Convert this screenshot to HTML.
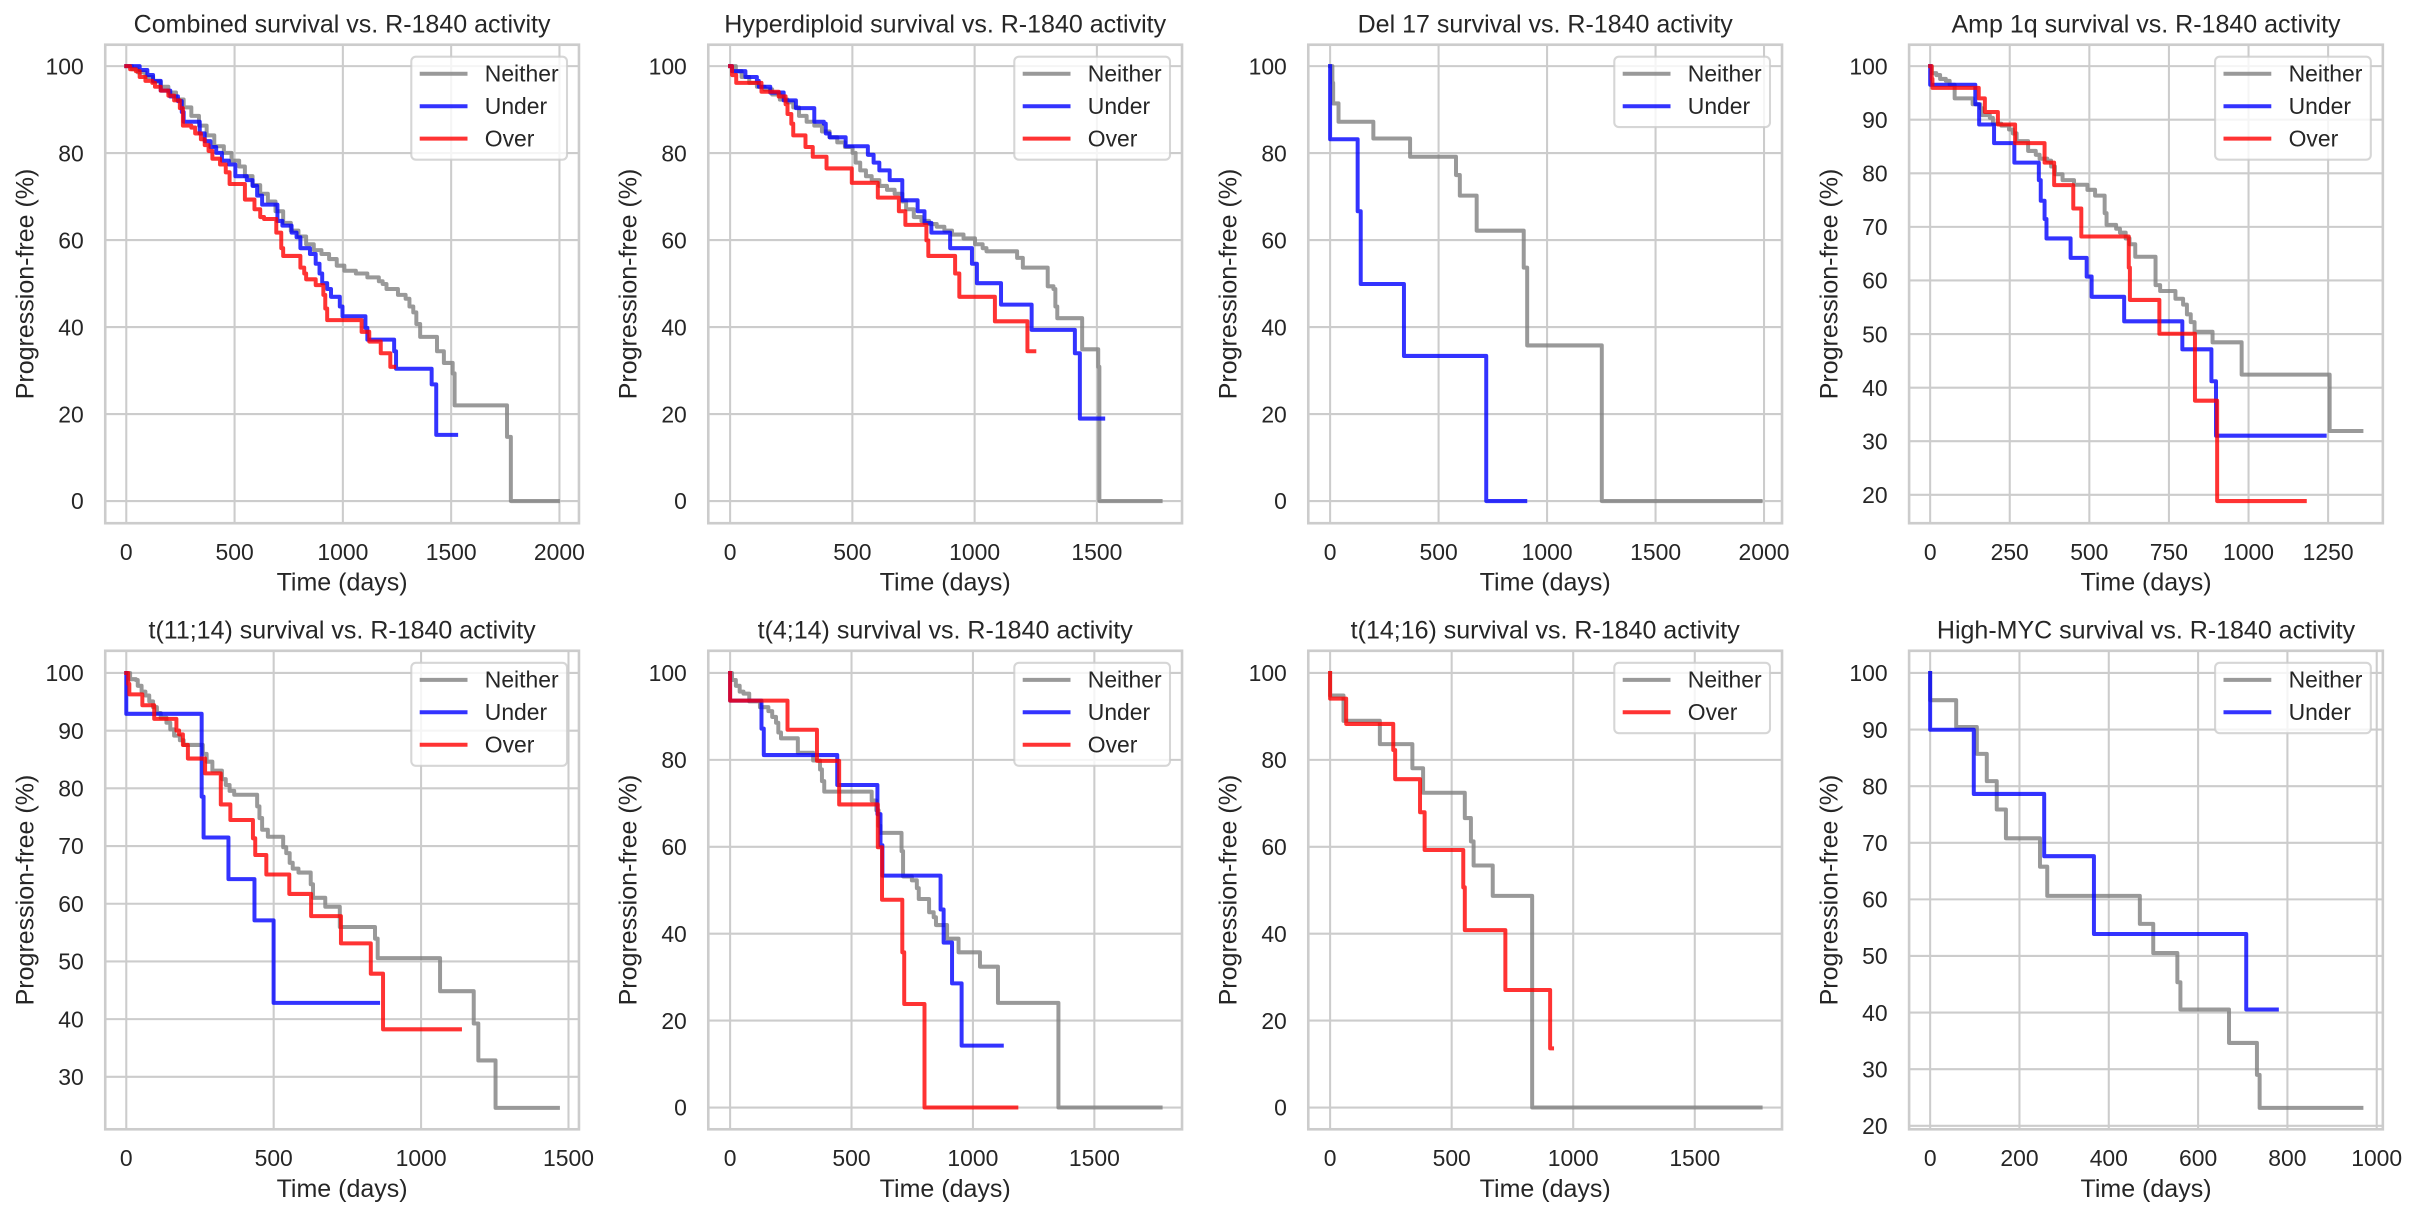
<!DOCTYPE html>
<html>
<head>
<meta charset="utf-8">
<style>
  html,body{margin:0;padding:0;background:#fff;}
  svg{display:block;}
  text{font-family:"Liberation Sans",Arial,sans-serif;fill:#262626;}
  .tt{font-size:25px;text-anchor:middle;}
  .xl{font-size:25px;text-anchor:middle;}
  .tk{font-size:22.9px;}
  .xt{text-anchor:middle;}
  .yt{text-anchor:end;}
  .lg{font-size:22.9px;}
  .grid{fill:none;stroke:#cccccc;stroke-width:5.4;}
  .spine{fill:none;stroke:#cccccc;stroke-width:6.8;}
  .c{fill:none;stroke-width:10.4;stroke-opacity:0.8;stroke-linejoin:round;stroke-linecap:square;}
  .g{stroke:#808080;}
  .b{stroke:#0000ff;}
  .r{stroke:#ff0000;}
  .lgbox{fill:#ffffff;fill-opacity:0.8;stroke:#cccccc;stroke-opacity:0.8;stroke-width:2.08px;}
  .ll{stroke-width:4px;stroke-opacity:0.8;}
</style>
</head>
<body>
<svg width="2418" height="1218" viewBox="0 0 2418 1218" xmlns="http://www.w3.org/2000/svg">
<rect x="0" y="0" width="2418" height="1218" fill="#ffffff"/>

<!-- ================= PANEL 1 ================= -->
<g transform="translate(0,-0.8) scale(0.38266,0.38903)">
  <path class="grid" d="M330 117V1347M613 117V1347M896 117V1347M1179 117V1347M1462 117V1347M275 172H1513M275 395.6H1513M275 619.2H1513M275 842.8H1513M275 1066.4H1513M275 1290H1513"/>
  <path class="c g" d="M330 172H345V180H360V188H380V200H400V212H420V225H440V240H460V258H480V278H500V300H520V325H540V350H560V378H585V395H605V415H625V430H640V455H660V478H680V500H700V520H720V545H740V575H760V595H780V610H800V630H820V645H840V655H860V668H880V685H900V698H930V705H960V715H990V725H1000V732H1010V745H1040V760H1060V770H1070V790H1080V805H1088V835H1098V868H1142V905H1160V935H1183V962H1188V1044H1325V1125H1335V1290H1458"/>
  <path class="c b" d="M330 172H365V182H385V195H400V210H420V235H445V250H465V262H475V290H480V315H522V345H535V365H550V380H565V395H580V415H598V425H615V455H645V465H660V480H672V505H685V528H725V570H738V582H762V600H775V612H785V640H810V655H825V680H835V705H842V730H855V745H865V765H888V790H895V815H955V845H960V875H1030V905H1035V950H1128V990H1140V1120H1192"/>
  <path class="c r" d="M330 172H340V180H355V185H365V200H380V210H398V215H405V225H420V235H440V248H455V260H470V280H478V325H500V330H510V345H525V360H535V375H545V390H555V410H575V425H590V445H600V475H640V515H665V540H680V560H690V565H722V600H735V640H740V660H785V690H795V705H800V720H825V735H845V760H850V795H855V825H945V855H965V880H995V910H1020V945H1030"/>
  <rect class="spine" x="275" y="117" width="1238" height="1230"/>
</g>
<text class="tt" x="342.1" y="32.5">Combined survival vs. R-1840 activity</text>
<text class="tk xt" x="126.3" y="560">0</text>
<text class="tk xt" x="234.6" y="560">500</text>
<text class="tk xt" x="342.9" y="560">1000</text>
<text class="tk xt" x="451.2" y="560">1500</text>
<text class="tk xt" x="559.4" y="560">2000</text>
<text class="tk yt" x="83.7" y="74.3">100</text>
<text class="tk yt" x="83.7" y="161.3">80</text>
<text class="tk yt" x="83.7" y="248.3">60</text>
<text class="tk yt" x="83.7" y="335.3">40</text>
<text class="tk yt" x="83.7" y="422.3">20</text>
<text class="tk yt" x="83.7" y="509.2">0</text>
<text class="xl" x="342.1" y="590.7">Time (days)</text>
<text class="xl" transform="translate(33.5,283.95) rotate(-90)" x="0" y="0">Progression-free (%)</text>
<rect class="lgbox" x="411.3" y="56.7" width="155.7" height="103" rx="4.6"/>
<line class="ll" x1="419.7" y1="73.8" x2="467.5" y2="73.8" stroke="#808080"/>
<line class="ll" x1="419.7" y1="106.2" x2="467.5" y2="106.2" stroke="#0000ff"/>
<line class="ll" x1="419.7" y1="138.6" x2="467.5" y2="138.6" stroke="#ff0000"/>
<text class="lg" x="484.8" y="81.6">Neither</text>
<text class="lg" x="484.8" y="114">Under</text>
<text class="lg" x="484.8" y="146.4">Over</text>

<!-- ================= PANEL 2 ================= -->
<g transform="translate(600,-0.8) scale(0.38266,0.38903)">
  <path class="grid" d="M340 117V1347M659.5 117V1347M979 117V1347M1298.5 117V1347M283 172H1521M283 395.6H1521M283 619.2H1521M283 842.8H1521M283 1066.4H1521M283 1290H1521"/>
  <path class="c g" d="M340 172H355V185H370V200H390V215H410V225H430V232H450V245H470V258H490V265H505V278H520V300H540V315H560V325H580V340H600V355H620V368H640V380H660V395H668V420H680V440H695V455H710V465H730V480H750V490H770V500H790V520H800V540H820V560H840V570H860V578H880V585H900V595H920V605H950V615H980V630H1000V640H1010V648H1090V665H1105V690H1170V738H1185V745H1190V790H1195V820H1260V900H1302V945H1305V1290H1465"/>
  <path class="c b" d="M340 172H345V185H380V200H410V210H415V225H445V240H480V260H512V280H560V315H585V320H590V345H600V355H642V378H700V400H715V420H730V440H757V465H790V517H830V545H848V575H866V600H915V640H972V680H985V730H1048V785H1128V850H1241V910H1254V1078H1315"/>
  <path class="c r" d="M340 172H345V195H356V215H422V238H467V250H485V270H490V295H500V320H505V350H537V380H556V405H592V435H658V472H726V510H781V545H798V580H853V620H858V660H928V705H939V765H1032V828H1117V905H1135"/>
  <rect class="spine" x="283" y="117" width="1238" height="1230"/>
</g>
<text class="tt" x="945.2" y="32.5">Hyperdiploid survival vs. R-1840 activity</text>
<text class="tk xt" x="730.1" y="560">0</text>
<text class="tk xt" x="852.4" y="560">500</text>
<text class="tk xt" x="974.6" y="560">1000</text>
<text class="tk xt" x="1096.9" y="560">1500</text>
<text class="tk yt" x="686.8" y="74.3">100</text>
<text class="tk yt" x="686.8" y="161.3">80</text>
<text class="tk yt" x="686.8" y="248.3">60</text>
<text class="tk yt" x="686.8" y="335.3">40</text>
<text class="tk yt" x="686.8" y="422.3">20</text>
<text class="tk yt" x="686.8" y="509.2">0</text>
<text class="xl" x="945.2" y="590.7">Time (days)</text>
<text class="xl" transform="translate(636.6,283.95) rotate(-90)" x="0" y="0">Progression-free (%)</text>
<rect class="lgbox" x="1014.3" y="56.7" width="155.7" height="103" rx="4.6"/>
<line class="ll" x1="1022.7" y1="73.8" x2="1070.5" y2="73.8" stroke="#808080"/>
<line class="ll" x1="1022.7" y1="106.2" x2="1070.5" y2="106.2" stroke="#0000ff"/>
<line class="ll" x1="1022.7" y1="138.6" x2="1070.5" y2="138.6" stroke="#ff0000"/>
<text class="lg" x="1087.8" y="81.6">Neither</text>
<text class="lg" x="1087.8" y="114">Under</text>
<text class="lg" x="1087.8" y="146.4">Over</text>

<!-- ================= PANEL 3 ================= -->
<g transform="translate(1200,-0.8) scale(0.38266,0.38903)">
  <path class="grid" d="M340 117V1347M623.5 117V1347M907 117V1347M1190.5 117V1347M1474 117V1347M283 172H1521M283 395.6H1521M283 619.2H1521M283 842.8H1521M283 1066.4H1521M283 1290H1521"/>
  <path class="c g" d="M340 172H346V215H348V268H362V315H453V358H549V405H669V452H679V505H723V595H846V690H855V890H1050V1290H1465"/>
  <path class="c b" d="M340 172V360H412V545H420V732H533V917H748V1290H850"/>
  <rect class="spine" x="283" y="117" width="1238" height="1230"/>
</g>
<text class="tt" x="1545.2" y="32.5">Del 17 survival vs. R-1840 activity</text>
<text class="tk xt" x="1330.1" y="560">0</text>
<text class="tk xt" x="1438.6" y="560">500</text>
<text class="tk xt" x="1547.1" y="560">1000</text>
<text class="tk xt" x="1655.6" y="560">1500</text>
<text class="tk xt" x="1764" y="560">2000</text>
<text class="tk yt" x="1286.8" y="74.3">100</text>
<text class="tk yt" x="1286.8" y="161.3">80</text>
<text class="tk yt" x="1286.8" y="248.3">60</text>
<text class="tk yt" x="1286.8" y="335.3">40</text>
<text class="tk yt" x="1286.8" y="422.3">20</text>
<text class="tk yt" x="1286.8" y="509.2">0</text>
<text class="xl" x="1545.2" y="590.7">Time (days)</text>
<text class="xl" transform="translate(1236.6,283.95) rotate(-90)" x="0" y="0">Progression-free (%)</text>
<rect class="lgbox" x="1614.3" y="56.7" width="155.7" height="70.4" rx="4.6"/>
<line class="ll" x1="1622.7" y1="73.8" x2="1670.5" y2="73.8" stroke="#808080"/>
<line class="ll" x1="1622.7" y1="106.2" x2="1670.5" y2="106.2" stroke="#0000ff"/>
<text class="lg" x="1687.8" y="81.6">Neither</text>
<text class="lg" x="1687.8" y="114">Under</text>

<!-- ================= PANEL 4 ================= -->
<g transform="translate(1810,-0.8) scale(0.38266,0.38903)">
  <path class="grid" d="M314 117V1347M522 117V1347M730 117V1347M938 117V1347M1146 117V1347M1354 117V1347M259 172H1497M259 309.75H1497M259 447.5H1497M259 585.25H1497M259 723H1497M259 860.75H1497M259 998.5H1497M259 1136.25H1497M259 1274H1497"/>
  <path class="c g" d="M314 172H318V190H330V195H340V205H355V210H365V220H378V255H425V270H445V280H450V298H470V305H478V320H500V325H520V335H530V345H540V365H570V390H590V400H600V410H620V415H630V430H640V450H660V465H690V477H725V490H745V505H770V550H775V580H800V590H810V600H825V615H835V630H850V662H903V735H915V750H955V770H975V785H985V810H995V830H1005V855H1052V882H1128V965H1358V1110H1441"/>
  <path class="c b" d="M314 172V220H432V270H442V322H481V370H534V420H598V465H603V518H613V565H618V615H681V665H723V713H736V765H821V828H973V900H1049V982H1061V1122H1345"/>
  <path class="c r" d="M314 172H318V205H320V228H441V255H457V290H491V322H536V370H613V420H638V478H688V538H709V610H833V690H836V773H913V860H1006V1032H1064V1290H1293"/>
  <rect class="spine" x="259" y="117" width="1238" height="1230"/>
</g>
<text class="tt" x="2146" y="32.5">Amp 1q survival vs. R-1840 activity</text>
<text class="tk xt" x="1930.2" y="560">0</text>
<text class="tk xt" x="2009.7" y="560">250</text>
<text class="tk xt" x="2089.3" y="560">500</text>
<text class="tk xt" x="2168.9" y="560">750</text>
<text class="tk xt" x="2248.5" y="560">1000</text>
<text class="tk xt" x="2328.1" y="560">1250</text>
<text class="tk yt" x="1887.6" y="74.3">100</text>
<text class="tk yt" x="1887.6" y="127.9">90</text>
<text class="tk yt" x="1887.6" y="181.5">80</text>
<text class="tk yt" x="1887.6" y="235.1">70</text>
<text class="tk yt" x="1887.6" y="288.7">60</text>
<text class="tk yt" x="1887.6" y="342.3">50</text>
<text class="tk yt" x="1887.6" y="395.8">40</text>
<text class="tk yt" x="1887.6" y="449.4">30</text>
<text class="tk yt" x="1887.6" y="503">20</text>
<text class="xl" x="2146" y="590.7">Time (days)</text>
<text class="xl" transform="translate(1837.4,283.95) rotate(-90)" x="0" y="0">Progression-free (%)</text>
<rect class="lgbox" x="2215.1" y="56.7" width="155.7" height="103" rx="4.6"/>
<line class="ll" x1="2223.5" y1="73.8" x2="2271.3" y2="73.8" stroke="#808080"/>
<line class="ll" x1="2223.5" y1="106.2" x2="2271.3" y2="106.2" stroke="#0000ff"/>
<line class="ll" x1="2223.5" y1="138.6" x2="2271.3" y2="138.6" stroke="#ff0000"/>
<text class="lg" x="2288.6" y="81.6">Neither</text>
<text class="lg" x="2288.6" y="114">Under</text>
<text class="lg" x="2288.6" y="146.4">Over</text>

<!-- ================= PANEL 5 ================= -->
<g transform="translate(0,608) scale(0.38266,0.38903)">
  <path class="grid" d="M330 110V1340M715.2 110V1340M1100.4 110V1340M1485.6 110V1340M275 167H1513M275 315.3H1513M275 463.6H1513M275 611.9H1513M275 760.2H1513M275 908.5H1513M275 1056.8H1513M275 1205.1H1513"/>
  <path class="c g" d="M330 167H340V183H355V185H360V200H370V215H380V225H390V240H400V255H410V270H420V282H435V295H445V312H455V328H470V340H480V352H530V375H540V395H555V418H580V440H590V455H600V470H612V480H672V510H678V540H685V570H700V588H740V615H748V630H757V655H765V670H780V680H812V710H818V745H850V768H888V820H980V850H987V900H1150V985H1238V1068H1250V1163H1295V1285H1458"/>
  <path class="c b" d="M330 167V272H527V485H532V590H597V697H665V803H715V1015H988"/>
  <path class="c r" d="M330 167H335V195H338V222H372V250H403V285H461V315H468V325H478V352H491V387H536V425H577V505H602V545H661V592H667V635H696V685H756V735H813V792H891V862H969V940H1001V1083H1202"/>
  <rect class="spine" x="275" y="110" width="1238" height="1230"/>
</g>
<text class="tt" x="342.1" y="638.6">t(11;14) survival vs. R-1840 activity</text>
<text class="tk xt" x="126.3" y="1166.1">0</text>
<text class="tk xt" x="273.7" y="1166.1">500</text>
<text class="tk xt" x="421.1" y="1166.1">1000</text>
<text class="tk xt" x="568.5" y="1166.1">1500</text>
<text class="tk yt" x="83.7" y="681.2">100</text>
<text class="tk yt" x="83.7" y="738.9">90</text>
<text class="tk yt" x="83.7" y="796.6">80</text>
<text class="tk yt" x="83.7" y="854.2">70</text>
<text class="tk yt" x="83.7" y="911.9">60</text>
<text class="tk yt" x="83.7" y="969.6">50</text>
<text class="tk yt" x="83.7" y="1027.3">40</text>
<text class="tk yt" x="83.7" y="1085">30</text>
<text class="xl" x="342.1" y="1196.8">Time (days)</text>
<text class="xl" transform="translate(33.5,890.05) rotate(-90)" x="0" y="0">Progression-free (%)</text>
<rect class="lgbox" x="411.3" y="662.8" width="155.7" height="103" rx="4.6"/>
<line class="ll" x1="419.7" y1="679.9" x2="467.5" y2="679.9" stroke="#808080"/>
<line class="ll" x1="419.7" y1="712.3" x2="467.5" y2="712.3" stroke="#0000ff"/>
<line class="ll" x1="419.7" y1="744.7" x2="467.5" y2="744.7" stroke="#ff0000"/>
<text class="lg" x="484.8" y="687.7">Neither</text>
<text class="lg" x="484.8" y="720.1">Under</text>
<text class="lg" x="484.8" y="752.5">Over</text>

<!-- ================= PANEL 6 ================= -->
<g transform="translate(600,608) scale(0.38266,0.38903)">
  <path class="grid" d="M340 110V1340M657.3 110V1340M974.6 110V1340M1291.9 110V1340M283 167H1521M283 390.4H1521M283 613.8H1521M283 837.2H1521M283 1060.6H1521M283 1284H1521"/>
  <path class="c g" d="M340 167H345V185H355V200H365V215H375V220H390V240H418V255H440V265H450V280H460V295H466V320H473V335H517V372H557V392H575V415H580V445H586V472H710V495H722V520H728V560H733V578H788V625H792V690H815V700H828V720H833V748H860V782H872V795H878V815H907V850H937V885H993V922H1040V1015H1198V1284H1465"/>
  <path class="c b" d="M340 167V238H422V310H428V378H620V455H725V530H733V610H738V688H890V775H898V860H920V965H945V1125H1050"/>
  <path class="c r" d="M340 167V238H490V313H567V393H625V505H726V615H737V750H790V885H795V1018H848V1284H1088"/>
  <rect class="spine" x="283" y="110" width="1238" height="1230"/>
</g>
<text class="tt" x="945.2" y="638.6">t(4;14) survival vs. R-1840 activity</text>
<text class="tk xt" x="730.1" y="1166.1">0</text>
<text class="tk xt" x="851.5" y="1166.1">500</text>
<text class="tk xt" x="972.9" y="1166.1">1000</text>
<text class="tk xt" x="1094.4" y="1166.1">1500</text>
<text class="tk yt" x="686.8" y="681.2">100</text>
<text class="tk yt" x="686.8" y="768.1">80</text>
<text class="tk yt" x="686.8" y="855">60</text>
<text class="tk yt" x="686.8" y="941.9">40</text>
<text class="tk yt" x="686.8" y="1028.8">20</text>
<text class="tk yt" x="686.8" y="1115.7">0</text>
<text class="xl" x="945.2" y="1196.8">Time (days)</text>
<text class="xl" transform="translate(636.6,890.05) rotate(-90)" x="0" y="0">Progression-free (%)</text>
<rect class="lgbox" x="1014.3" y="662.8" width="155.7" height="103" rx="4.6"/>
<line class="ll" x1="1022.7" y1="679.9" x2="1070.5" y2="679.9" stroke="#808080"/>
<line class="ll" x1="1022.7" y1="712.3" x2="1070.5" y2="712.3" stroke="#0000ff"/>
<line class="ll" x1="1022.7" y1="744.7" x2="1070.5" y2="744.7" stroke="#ff0000"/>
<text class="lg" x="1087.8" y="687.7">Neither</text>
<text class="lg" x="1087.8" y="720.1">Under</text>
<text class="lg" x="1087.8" y="752.5">Over</text>

<!-- ================= PANEL 7 ================= -->
<g transform="translate(1200,608) scale(0.38266,0.38903)">
  <path class="grid" d="M340 110V1340M657.7 110V1340M975.3 110V1340M1293 110V1340M283 167H1521M283 390.4H1521M283 613.8H1521M283 837.2H1521M283 1060.6H1521M283 1284H1521"/>
  <path class="c g" d="M340 167V225H375V290H470V350H555V412H583V475H692V540H708V600H715V662H765V740H868V1284H1465"/>
  <path class="c r" d="M340 167V233H382V298H505V365H510V440H575V525H587V622H688V718H692V828H798V982H915V1132H920"/>
  <rect class="spine" x="283" y="110" width="1238" height="1230"/>
</g>
<text class="tt" x="1545.2" y="638.6">t(14;16) survival vs. R-1840 activity</text>
<text class="tk xt" x="1330.1" y="1166.1">0</text>
<text class="tk xt" x="1451.7" y="1166.1">500</text>
<text class="tk xt" x="1573.2" y="1166.1">1000</text>
<text class="tk xt" x="1694.8" y="1166.1">1500</text>
<text class="tk yt" x="1286.8" y="681.2">100</text>
<text class="tk yt" x="1286.8" y="768.1">80</text>
<text class="tk yt" x="1286.8" y="855">60</text>
<text class="tk yt" x="1286.8" y="941.9">40</text>
<text class="tk yt" x="1286.8" y="1028.8">20</text>
<text class="tk yt" x="1286.8" y="1115.7">0</text>
<text class="xl" x="1545.2" y="1196.8">Time (days)</text>
<text class="xl" transform="translate(1236.6,890.05) rotate(-90)" x="0" y="0">Progression-free (%)</text>
<rect class="lgbox" x="1614.3" y="662.8" width="155.7" height="70.4" rx="4.6"/>
<line class="ll" x1="1622.7" y1="679.9" x2="1670.5" y2="679.9" stroke="#808080"/>
<line class="ll" x1="1622.7" y1="712.3" x2="1670.5" y2="712.3" stroke="#ff0000"/>
<text class="lg" x="1687.8" y="687.7">Neither</text>
<text class="lg" x="1687.8" y="720.1">Over</text>

<!-- ================= PANEL 8 ================= -->
<g transform="translate(1810,608) scale(0.38266,0.38903)">
  <path class="grid" d="M314 110V1340M547.4 110V1340M780.8 110V1340M1014.2 110V1340M1247.6 110V1340M1481 110V1340M259 167H1497M259 312.5H1497M259 458H1497M259 603.5H1497M259 749H1497M259 894.5H1497M259 1040H1497M259 1185.5H1497M259 1331H1497"/>
  <path class="c g" d="M314 167V237H382V306H436V375H462V445H488V518H512V592H601V665H620V740H862V812H897V887H960V962H968V1032H1095V1118H1168V1200H1175V1285H1441"/>
  <path class="c b" d="M314 167V313H428V478H612V638H742V838H1140V1032H1220"/>
  <rect class="spine" x="259" y="110" width="1238" height="1230"/>
</g>
<text class="tt" x="2146" y="638.6">High-MYC survival vs. R-1840 activity</text>
<text class="tk xt" x="1930.2" y="1166.1">0</text>
<text class="tk xt" x="2019.5" y="1166.1">200</text>
<text class="tk xt" x="2108.8" y="1166.1">400</text>
<text class="tk xt" x="2198.1" y="1166.1">600</text>
<text class="tk xt" x="2287.4" y="1166.1">800</text>
<text class="tk xt" x="2376.7" y="1166.1">1000</text>
<text class="tk yt" x="1887.6" y="681.2">100</text>
<text class="tk yt" x="1887.6" y="737.8">90</text>
<text class="tk yt" x="1887.6" y="794.4">80</text>
<text class="tk yt" x="1887.6" y="851">70</text>
<text class="tk yt" x="1887.6" y="907.6">60</text>
<text class="tk yt" x="1887.6" y="964.2">50</text>
<text class="tk yt" x="1887.6" y="1020.8">40</text>
<text class="tk yt" x="1887.6" y="1077.4">30</text>
<text class="tk yt" x="1887.6" y="1134">20</text>
<text class="xl" x="2146" y="1196.8">Time (days)</text>
<text class="xl" transform="translate(1837.4,890.05) rotate(-90)" x="0" y="0">Progression-free (%)</text>
<rect class="lgbox" x="2215.1" y="662.8" width="155.7" height="70.4" rx="4.6"/>
<line class="ll" x1="2223.5" y1="679.9" x2="2271.3" y2="679.9" stroke="#808080"/>
<line class="ll" x1="2223.5" y1="712.3" x2="2271.3" y2="712.3" stroke="#0000ff"/>
<text class="lg" x="2288.6" y="687.7">Neither</text>
<text class="lg" x="2288.6" y="720.1">Under</text>

</svg>
</body>
</html>
